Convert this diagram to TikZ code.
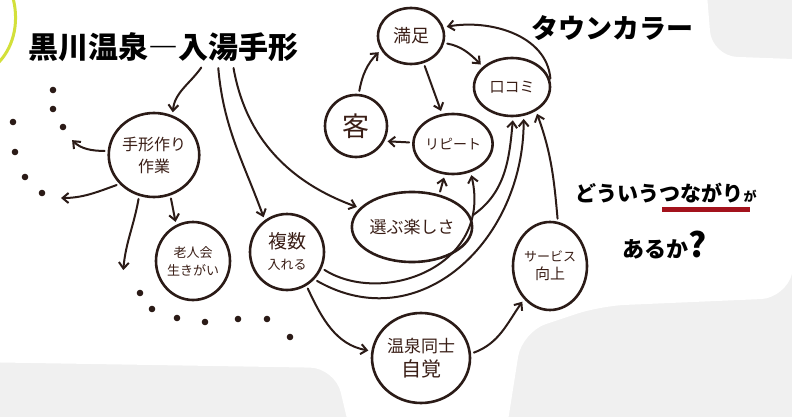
\documentclass[tikz,border=0pt]{standalone}
\usepackage{fontspec}
\setmainfont{Noto Sans CJK JP}
\usetikzlibrary{shapes.geometric,arrows.meta,positioning,calc}
\definecolor{ink}{HTML}{2B1B17}
\definecolor{brownink}{HTML}{3A1E16}
\definecolor{marker}{HTML}{A3121C}
\definecolor{hilite}{HTML}{D3E03A}
\definecolor{paper}{HTML}{F0F0F0}

\begin{document}
\begin{tikzpicture}[x=1pt, y=1pt,
    bubble/.style={draw=ink, line width=2.6pt, ellipse, inner sep=0pt, align=center, text=brownink},
    arr/.style={draw=ink, line width=2pt, line cap=round, -{Straight Barb[length=6pt,width=10pt]}, shorten <=3pt, shorten >=3pt},
    dot/.style={fill=ink}]
    \clip (0,0) rectangle (792,-417);

    % paper
    \fill[paper] (0,0) rectangle (792,-417);
    \fill[white, rounded corners=25pt] (-30,30) -- (705,30) -- (712,-56) -- (820,-60) -- (820,-160) -- (786,-298) -- (600,-306) -- (522,-332) -- (505,-440) -- (352,-440) -- (335,-368) -- (-30,-362) -- cycle;
    \draw[hilite, line width=3pt] (13,2) .. controls (20,-25) and (12,-50) .. (-3,-64);

    % headings
    \node[font=\fontsize{30}{32}\selectfont\bfseries] (title) at (163,-47) {黒川温泉―入湯手形};
    \node[font=\fontsize{27}{30}\selectfont\bfseries] (town) at (612,-28) {タウンカラー};
    \draw[marker, line width=5pt] (662,-209) -- (750,-209);
    \node[font=\fontsize{21}{24}\selectfont\bfseries, anchor=west] (question) at (572,-193) {どういうつながり{\fontsize{13}{14}\selectfont が}};
    \node[font=\fontsize{22}{26}\selectfont\bfseries] (ask) at (665,-245) {あるか{\fontsize{34}{36}\selectfont ?}};

    % loop
    \node[bubble, minimum width=66pt, minimum height=56pt, font=\fontsize{18}{20}\selectfont] (manzoku) at (411,-36) {満足};
    \node[bubble, minimum width=76pt, minimum height=58pt, font=\fontsize{15}{17}\selectfont] (kuchikomi) at (512,-87) {口コミ};
    \node[bubble, minimum width=62pt, minimum height=62pt, font=\fontsize{27}{29}\selectfont] (kyaku) at (356,-126) {客};
    \node[bubble, minimum width=62pt, minimum height=60pt, font=\fontsize{14}{16}\selectfont] (repeat) at (453,-144) {リピート};
    \node[bubble, minimum width=108pt, minimum height=70pt, font=\fontsize{17}{19}\selectfont] (erabu) at (412,-227) {選ぶ楽しさ};

    % tegata side
    \node[bubble, minimum width=88pt, minimum height=84pt, font=\fontsize{16}{22}\selectfont] (tegata) at (154,-155) {手形作り\\作業};
    \node[bubble, minimum width=74pt, minimum height=78pt, font=\fontsize{13}{18}\selectfont] (roujin) at (193,-261) {老人会\\生きがい};
    \node[bubble, minimum width=74pt, minimum height=76pt, font=\fontsize{19}{21}\selectfont] (fukusu) at (287,-252) {複数\\{\fontsize{13}{15}\selectfont 入れる}};
    \node[bubble, minimum width=98pt, minimum height=90pt, font=\fontsize{17}{24}\selectfont] (onsen) at (421,-358) {温泉同士\\{\fontsize{20}{22}\selectfont 自覚}};
    \node[bubble, minimum width=74pt, minimum height=88pt, font=\fontsize{13}{18}\selectfont] (service) at (550,-266) {サービス\\{\fontsize{15}{17}\selectfont 向上}};

    % free ends
    \coordinate (upleft) at (70,-138);
    \coordinate (left) at (58,-198);
    \coordinate (down) at (123,-273);

    % dots
    \foreach \p in {(53,-90),(53,-109),(63,-127),(13,-122),(15,-152),(25,-177),(42,-193),
        (140,-293),(152,-309),(177,-318),(205,-322),(238,-319),(267,-319),(290,-337)}
        \fill[dot] \p circle (3.3);

    % from the title
    \draw[arr] ([xshift=40pt]title.south) to[out=-125, in=85] (tegata.65);
    \draw[arr] ([xshift=55pt]title.south) to[out=-85, in=110] (fukusu.125);
    \draw[arr] ([xshift=70pt]title.south) to[out=-80, in=160] (erabu.160);

    % tegata
    \draw[arr] (tegata.175) to[out=180, in=-45] (upleft);
    \draw[arr] (tegata.220) to[out=200, in=0] (left);
    \draw[arr] (tegata.250) to[out=-100, in=85] (down);
    \draw[arr] (tegata.-68) -- (roujin.115);

    % fukusu
    \draw[arr] (fukusu.-60) to[out=-65, in=170] (onsen.172);
    \draw[arr] (fukusu.-25) .. controls +(60,-38) and +(22,-95) .. (repeat.-58);
    \draw[arr] (fukusu.-45) .. controls +(105,-60) and +(0,-125) .. (kuchikomi.-68);

    % loop arrows
    \draw[arr] (kyaku.85) to[out=80, in=-135] (manzoku.205);
    \draw[arr] (manzoku.-12) to[out=-10, in=135] (kuchikomi.145);
    \draw[arr] (manzoku.-65) -- (repeat.110);
    \draw[arr] (repeat.178) -- (kyaku.-28);
    \draw[arr] (kuchikomi.8) to[out=95, in=10] (manzoku.15);
    \draw[arr] (erabu.50) -- (repeat.-105);
    \draw[arr] (erabu.10) to[out=35, in=-95] (kuchikomi.-88);

    % service
    \draw[arr] (onsen.5) to[out=20, in=-125] (service.-128);
    \draw[arr] (service.80) to[out=95, in=-70] (kuchikomi.-45);
\end{tikzpicture}
\end{document}
